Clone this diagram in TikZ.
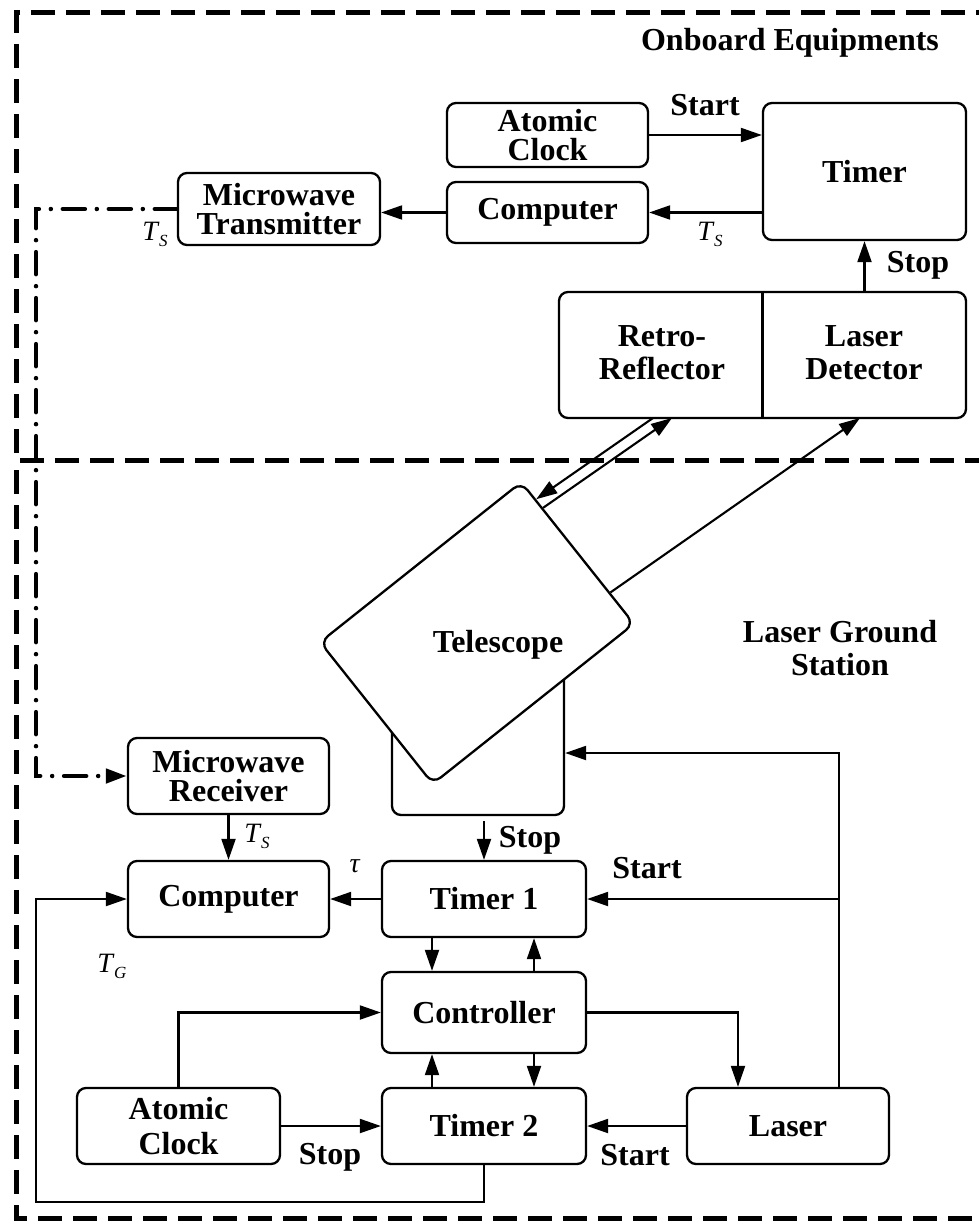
\documentclass[tikz,border=0pt]{standalone}
\usepackage{fontspec}
\setmainfont{Liberation Serif}
\usetikzlibrary{arrows.meta,calc}
\newcommand\mysubT[1]{\textit{T}\kern-0.5pt\raisebox{-6pt}{\fontsize{17}{17}\selectfont\textit{#1}}}
\begin{document}
\begin{tikzpicture}[x=1pt,y=-1pt,
  box/.style={draw,line width=2.3pt,rounded corners=9pt,inner sep=0pt,align=center,font=\bfseries\fontsize{32}{33}\selectfont},
  conn/.style={line width=2.1pt},
  arr/.style={conn,-{Triangle[length=21pt,width=14pt]}},
  lbl/.style={font=\bfseries\fontsize{32}{33}\selectfont,inner sep=0pt,align=center},
  sym/.style={font=\fontsize{28}{30}\selectfont,inner sep=0pt},
  region/.style={line width=5pt,dash pattern=on 24pt off 11pt},
  wireless/.style={line width=4.5pt,line cap=round,dash pattern=on 22pt off 12pt on 0pt off 12pt}
]
\clip (0,0) rectangle (979,1223);
\useasboundingbox (0,0) rectangle (979,1223);
\fill[white] (0,0) rectangle (979,1223);

% regions
\draw[region] (1000,13) -- (16,13) -- (16,460) -- (1000,460);
\draw[region] (16,470) -- (16,1218) -- (1000,1218);
\node[lbl] (onb) at (790,43) {Onboard Equipments};
\node[lbl] (lgs) at (840,648) {Laser Ground\\Station};

% onboard nodes
\node[box,minimum width=201,minimum height=64] (ac) at (547.5,135) {Atomic\\[-4pt]Clock};
\node[box,minimum width=201,minimum height=61] (cp) at (547.5,212.5) {Computer};
\node[box,minimum width=203,minimum height=137] (tm) at (864.5,171.5) {Timer};
\node[box,minimum width=202,minimum height=72] (mt) at (279,209) {Microwave\\[-4pt]Transmitter};
\node[box,minimum width=407,minimum height=126] (ob) at (762.5,355) {};
\draw[line width=2.3pt] (ob.north) -- (ob.south);
\node[lbl] (retro) at (662,353) {Retro-\\Reflector};
\node[lbl] (det) at (864,353) {Laser\\Detector};

\draw[arr] (ac.east) -- (ac.east -| tm.west);
\node[lbl] (st1) at (705,105) {Start};
\draw[arr] (tm.west |- cp.east) -- (cp.east);
\node[sym] (ts1) at (710,234) {\mysubT{S}};
\draw[arr] (cp.west) -- (cp.west -| mt.east);
\node[sym] (ts2) at (155,234) {\mysubT{S}};
\draw[arr] (tm.south |- ob.north) -- (tm.south);
\node[lbl] (sp1) at (918,265) {Stop};

% ground: telescope
\node[box,minimum width=172,minimum height=155] (mount) at (478,737.5) {};
\node[draw,line width=2.3pt,rounded corners=10pt,fill=white,rotate=38.5,minimum width=257,minimum height=181,inner sep=0pt] (tel) at (477,633) {};
\node[lbl] (telt) at (498,645) {Telescope};

\coordinate (ta) at ($(tel.north east)!0.13!(tel.south east)$);
\coordinate (tb) at ($(tel.north east)!0.19!(tel.south east)$);
\coordinate (tc) at ($(tel.north east)!0.78!(tel.south east)$);
\coordinate (ra) at (653,418);
\coordinate (rb) at (672,418);
\coordinate (rc) at (860,418);
\draw[arr] (ra) -- (ta);
\draw[arr] (tb) -- (rb);
\draw[arr] (tc) -- (rc);

% ground nodes
\node[box,minimum width=201,minimum height=76] (mr) at (228.5,776) {Microwave\\[-4pt]Receiver};
\node[box,minimum width=201,minimum height=76] (cb) at (228.5,899) {Computer};
\node[box,minimum width=204,minimum height=76] (t1) at (484,899) {Timer 1};
\node[box,minimum width=204,minimum height=81] (ctrl) at (484,1012.5) {Controller};
\node[box,minimum width=204,minimum height=76] (t2) at (484,1126) {Timer 2};
\node[box,minimum width=203,minimum height=76] (acb) at (178.5,1126) {Atomic\\[2pt]Clock};
\node[box,minimum width=202,minimum height=76] (laser) at (788,1126) {Laser};

% wireless link
\coordinate (wd) at (36,776);
\draw[wireless,-{Triangle[length=21pt,width=14pt]}] (mt.west) -| (wd) -- (mr.west);

\draw[arr] (mr.south) -- (cb.north);
\node[sym] (ts3) at (257,836) {\mysubT{S}};
\draw[arr] (t1.west) -- (cb.east);
\node[sym] (tau) at (355,866) {\textit{τ}};
\node[sym] (tg) at (112,966) {\mysubT{G}};

\draw[arr] ([yshift=-5pt]mount.south -| t1.north) -- (t1.north);
\node[lbl] (sp2) at (530,840) {Stop};

\draw[arr] ([xshift=-52pt]t1.south) -- ([xshift=-52pt]ctrl.north);
\draw[arr] ([xshift=50pt]ctrl.north) -- ([xshift=50pt]t1.south);
\draw[arr] ([xshift=-52pt]t2.north) -- ([xshift=-52pt]ctrl.south);
\draw[arr] ([xshift=50pt]ctrl.south) -- ([xshift=50pt]t2.north);

\draw[arr] (acb.north) |- (ctrl.west);
\draw[arr] (acb.east) -- (t2.west);
\node[lbl] (sp3) at (330,1157) {Stop};
\draw[arr] (laser.west) -- (t2.east);
\node[lbl] (st3) at (635,1155) {Start};
\draw[arr] (ctrl.east) -| ([xshift=-50pt]laser.north);

\coordinate (lu) at ([xshift=51pt]laser.north);
\draw[arr] (lu) |- ([yshift=-15.5pt]mount.east);
\draw[arr] (t1.east -| lu) -- (t1.east);
\node[lbl] (st2) at (647,868) {Start};

\coordinate (lc) at (36,1202);
\draw[arr] (t2.south) |- (lc) |- (cb.west);
\end{tikzpicture}
\end{document}
